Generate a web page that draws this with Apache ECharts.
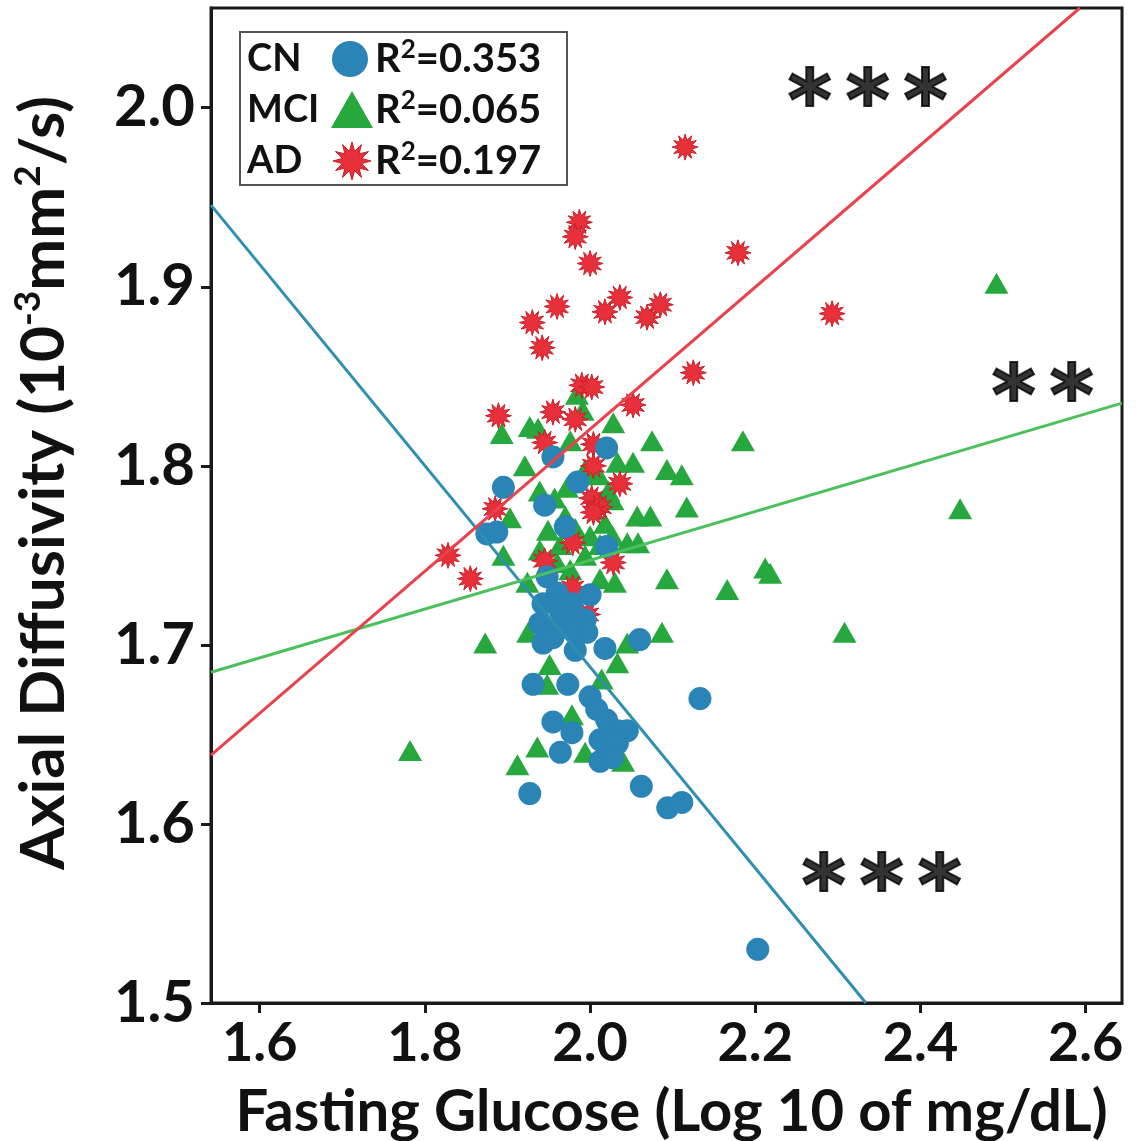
<!DOCTYPE html>
<html>
<head>
<meta charset="utf-8">
<script src="https://cdn.jsdelivr.net/npm/echarts@6/dist/echarts.min.js"></script>
<style>
html,body{margin:0;padding:0;background:#fff;}
#chart{width:1137px;height:1141px;}
</style>
</head>
<body>
<div id="chart"></div>
<script>
// ---- Data ----
const groupNames = ['CN', 'MCI', 'AD'];
const rSquared = ['0.353', '0.065', '0.197'];
const xTicks = [1.6, 1.8, 2.0, 2.2, 2.4, 2.6];
const yTicks = [1.5, 1.6, 1.7, 1.8, 1.9, 2.0];
const xRange = [1.541, 2.644];
const yRange = [1.5, 2.0557];

// CN (blue circles) [glucose, AxD]
const cnPoints = [
  [2.020,1.810],[1.955,1.805],[1.985,1.791],[1.895,1.788],[1.945,1.778],
  [1.970,1.766],[1.875,1.762],[1.887,1.763],[2.020,1.755],
  [1.948,1.738],[1.960,1.729],[1.978,1.723],[2.000,1.728],[1.943,1.723],
  [1.964,1.719],[1.979,1.718],[1.994,1.714],[1.939,1.712],[1.960,1.710],
  [1.979,1.708],[1.996,1.707],[1.943,1.701],[1.955,1.704],[1.982,1.697],
  [2.018,1.698],[2.060,1.703],[1.931,1.678],[1.973,1.678],[2.000,1.671],
  [2.133,1.670],[2.008,1.664],[1.955,1.657],[1.978,1.651],[2.020,1.658],
  [2.033,1.652],[2.045,1.652],[2.012,1.647],[1.964,1.640],[2.020,1.643],
  [2.033,1.645],[2.012,1.635],[2.027,1.637],[1.927,1.617],[2.062,1.621],
  [2.094,1.609],[2.111,1.612],[2.203,1.530]
];
// MCI (green triangles)
const mciPoints = [
  [2.492,1.902],[2.185,1.814],[2.448,1.776],[2.212,1.743],[2.218,1.740],
  [2.166,1.731],[2.308,1.707],[1.782,1.641],[1.873,1.701],[1.893,1.818],
  [1.927,1.822],[1.937,1.821],[1.984,1.840],[1.991,1.831],[2.028,1.824],
  [2.075,1.814],[1.976,1.814],[1.921,1.800],[2.033,1.802],[2.052,1.802],
  [2.093,1.798],[2.111,1.795],[2.117,1.777],[2.057,1.772],[2.073,1.772],
  [2.093,1.737],[1.903,1.771],[1.939,1.786],[1.957,1.782],[1.972,1.788],
  [1.994,1.798],[2.010,1.795],[2.022,1.786],[2.027,1.781],[1.970,1.772],
  [1.949,1.764],[1.964,1.756],[1.982,1.765],[2.000,1.761],[2.018,1.768],
  [1.939,1.753],[1.960,1.746],[1.994,1.750],[2.012,1.756],[2.027,1.761],
  [2.030,1.735],[2.012,1.737],[1.976,1.742],[1.895,1.750],[1.924,1.735],
  [2.045,1.757],[2.058,1.757],[1.925,1.707],[2.087,1.707],[2.045,1.701],
  [2.033,1.690],[1.951,1.689],[1.948,1.678],[2.014,1.681],[1.978,1.661],
  [1.936,1.643],[1.912,1.633],[1.994,1.640],[2.040,1.635]
];
// AD (red stars)
const adPoints = [
  [2.115,1.978],[1.987,1.936],[1.982,1.928],[2.000,1.913],[1.960,1.889],
  [1.930,1.880],[1.942,1.866],[2.018,1.886],[2.036,1.894],[2.069,1.883],
  [2.085,1.890],[2.179,1.919],[2.293,1.885],[2.125,1.852],[1.990,1.845],
  [2.002,1.844],[1.889,1.828],[1.955,1.830],[1.982,1.826],[2.052,1.834],
  [1.945,1.813],[2.004,1.812],[2.004,1.800],[2.036,1.790],[2.002,1.782],
  [2.012,1.777],[2.004,1.774],[1.885,1.776],[1.828,1.750],[1.855,1.737],
  [1.979,1.757],[1.945,1.747],[2.028,1.746],[1.979,1.732],[1.997,1.717]
];
// Regression lines (endpoints)
const cnFit = [[1.541,1.9456],[2.334,1.5]];
const mciFit = [[1.541,1.6847],[2.644,1.835]];
const adFit = [[1.541,1.6384],[2.593,2.0557]];
// Significance annotations
const annotations = [
  {text:'***', pos:[2.336,2.0127]},
  {text:'**',  pos:[2.548,1.848]},
  {text:'***', pos:[2.353,1.574]}
];

// ---- Styles ----
const BLUE = '#2a84b6', GREEN = '#26a83e', RED = '#e8303a';
const BLUE_LINE = '#2f8fb2', GREEN_LINE = '#4cc05c', RED_LINE = '#e8434c';
const FONT = 'Lato';

function starPoints(cx, cy, R, r) {
  const pts = [];
  for (let i = 0; i < 24; i++) {
    const a = i * Math.PI / 12 - Math.PI / 2;
    const rad = i % 2 === 0 ? R : r;
    pts.push([cx + rad * Math.cos(a), cy + rad * Math.sin(a)]);
  }
  return pts;
}
const STAR_PATH = 'path://M' + starPoints(50, 50, 50, 27).map(p => p[0].toFixed(2) + ' ' + p[1].toFixed(2)).join(' L') + ' Z';

const chart = echarts.init(document.getElementById('chart'), null, {renderer: 'canvas'});

const legendX = 240, legendY = 32, rowH = 51;
const legendSymbols = [
  {type:'circle', shape:{cx:350, cy:legendY + 27, r:18}, style:{fill:BLUE}},
  {type:'polygon', shape:{points:[[331,legendY+96],[352,legendY+59],[373,legendY+96]]}, style:{fill:GREEN}},
  {type:'polygon', shape:{points:starPoints(352, legendY+129, 19, 10)}, style:{fill:RED, stroke:'#c8202a', lineWidth:1}}
];
const graphics = [
  {type:'rect', shape:{x:legendX, y:legendY, width:327, height:153}, style:{fill:'#fff', stroke:'#555', lineWidth:2}, z:10}
];
groupNames.forEach((g, i) => {
  graphics.push({type:'text', x:247, y:legendY + 27 + i*rowH, z:11,
    style:{text:g, font:'bold 38px ' + FONT, fill:'#111', verticalAlign:'middle'}});
  graphics.push({type:'text', x:375, y:legendY + 27 + i*rowH, z:11,
    style:{text:'{a|R}{s|2}{a|=' + rSquared[i] + '}', verticalAlign:'middle',
      rich:{a:{font:'bold 40px ' + FONT, fill:'#111', lineHeight:44},
            s:{font:'bold 26px ' + FONT, fill:'#111', lineHeight:44, verticalAlign:'top', padding:[0,0,14,0]}}}});
});
legendSymbols.forEach(s => { s.z = 11; graphics.push(s); });

const option = {
  animation: false,
  backgroundColor: '#fff',
  grid: {left:211, right:15, top:8, bottom:138, outerBoundsMode:'none', containLabel:false,
    show:true, borderColor:'#1a1a1a', borderWidth:3, backgroundColor:'#fff'},
  xAxis: {
    type:'value', min:xRange[0], max:xRange[1],
    name:'Fasting Glucose (Log 10 of mg/dL)', nameLocation:'middle', nameGap:80,
    nameTextStyle:{fontFamily:FONT, fontWeight:'bold', fontSize:58, color:'#111', padding:[0,0,0,10]},
    axisLine:{show:true, lineStyle:{color:'#1a1a1a', width:3}},
    axisTick:{show:true, inside:false, length:10, lineStyle:{color:'#1a1a1a', width:3}, customValues:xTicks},
    axisLabel:{show:true, margin:14, fontFamily:FONT, fontWeight:'bold', fontSize:54, color:'#111',
      customValues:xTicks, formatter:v => v.toFixed(1)},
    splitLine:{show:false}
  },
  yAxis: {
    type:'value', min:yRange[0], max:yRange[1],
    name:'{t|Axial Diffusivity (10}{s|-3}{t|mm}{s|2}{t|/s)}', nameLocation:'middle', nameGap:133,
    nameTextStyle:{
      padding:[0,0,0,45],
      rich:{t:{fontFamily:FONT, fontWeight:'bold', fontSize:62, color:'#111', lineHeight:68},
            s:{fontFamily:FONT, fontWeight:'bold', fontSize:37, color:'#111', lineHeight:68, verticalAlign:'top', padding:[0,0,25,0]}}
    },
    axisLine:{show:true, lineStyle:{color:'#1a1a1a', width:3}},
    axisTick:{show:true, inside:false, length:10, lineStyle:{color:'#1a1a1a', width:3}, customValues:yTicks},
    axisLabel:{show:true, margin:16, fontFamily:FONT, fontWeight:'bold', fontSize:58, color:'#111',
      customValues:yTicks, formatter:v => v.toFixed(1)},
    splitLine:{show:false}
  },
  series: [
    {name:'MCI', type:'scatter', data:mciPoints, symbol:'triangle', symbolSize:[24,21],
      itemStyle:{color:GREEN, opacity:1}, z:2},
    {name:'AD', type:'scatter', data:adPoints, symbol:STAR_PATH, symbolSize:26,
      itemStyle:{color:RED, borderColor:'#c8202a', borderWidth:1, opacity:1}, z:3},
    {name:'CN', type:'scatter', data:cnPoints, symbol:'circle', symbolSize:23,
      itemStyle:{color:BLUE, opacity:1}, z:4},
    {name:'CN fit', type:'line', data:cnFit, showSymbol:false, symbol:'none', clip:true,
      lineStyle:{color:BLUE_LINE, width:3}, z:5},
    {name:'MCI fit', type:'line', data:mciFit, showSymbol:false, symbol:'none', clip:true,
      lineStyle:{color:GREEN_LINE, width:3}, z:5},
    {name:'AD fit', type:'line', data:adFit, showSymbol:false, symbol:'none', clip:true,
      lineStyle:{color:RED_LINE, width:3}, z:5},
    {name:'annotations', type:'scatter', symbolSize:0, silent:true, z:6,
      data:annotations.map(a => ({value:a.pos, name:a.text})),
      label:{show:true, position:'inside', offset:[0,22], formatter:p => p.name.split('').join('\u2006'),
        fontFamily:'DejaVu Sans', fontWeight:'bold', fontSize:84, color:'#000',
        textBorderColor:'#000', textBorderWidth:2}}
  ],
  graphic: graphics
};
chart.setOption(option);
</script>
</body>
</html>
